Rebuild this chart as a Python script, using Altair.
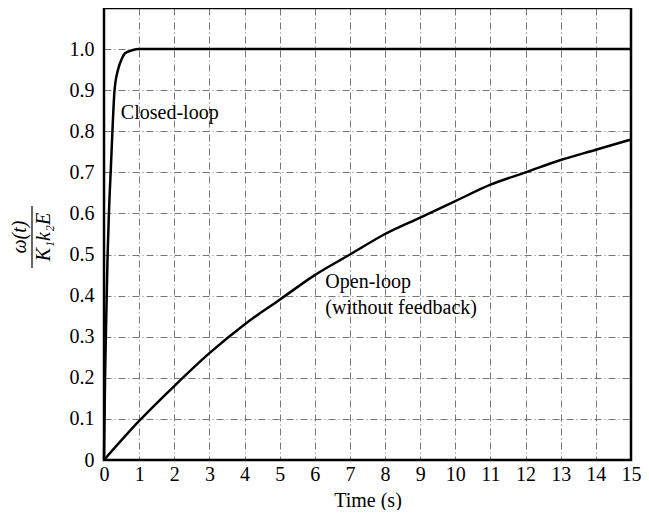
import altair as alt
import pandas as pd

closed_t = [0, 0.03, 0.07, 0.1, 0.14, 0.2, 0.25, 0.3, 0.4, 0.5, 0.6, 0.8, 1.0, 15]
closed_y = [0, 0.2, 0.37, 0.49, 0.6, 0.72, 0.82, 0.9, 0.95, 0.975, 0.99, 0.997, 1.0, 1.0]
open_t = [0, 1, 2, 3, 4, 5, 6, 7, 8, 9, 10, 11, 12, 13, 14, 15]
open_y = [0, 0.095, 0.18, 0.26, 0.33, 0.39, 0.45, 0.5, 0.55, 0.59, 0.63, 0.67, 0.70, 0.73, 0.755, 0.78]
x_ticks = list(range(0, 16))
y_ticks = [0, 0.1, 0.2, 0.3, 0.4, 0.5, 0.6, 0.7, 0.8, 0.9, 1.0]

labels_text = ["Closed-loop", "Open-loop", "(without feedback)"]
labels_t = [0.48, 6.3, 6.3]
labels_y = [0.845, 0.433, 0.37]

FONT = "Liberation Serif"
FS = 20

df = pd.concat([
    pd.DataFrame({"t": closed_t, "y": closed_y, "s": "closed"}),
    pd.DataFrame({"t": open_t, "y": open_y, "s": "open"}),
])
lab = pd.DataFrame({"text": labels_text, "t": labels_t, "y": labels_y})

W, H = 527, 452

xs = alt.Scale(domain=[0, 15], nice=False)
ys = alt.Scale(domain=[0, 1.1], nice=False)

lines = alt.Chart(df).mark_line(color="black", strokeWidth=2.5, interpolate="monotone").encode(
    x=alt.X("t:Q", scale=xs, axis=alt.Axis(
        values=x_ticks, title="Time (s)", grid=True, gridColor="#777", gridDash=[7, 3, 1, 3],
        gridWidth=1, ticks=False, labelFont=FONT, labelFontSize=FS, titleFont=FONT,
        titleFontSize=FS, titleFontWeight="normal", labelColor="black", titleColor="black",
        domain=False, labelPadding=4, titlePadding=6, labelOverlap=False, labelFlush=False)),
    y=alt.Y("y:Q", scale=ys, axis=alt.Axis(
        values=y_ticks, title=None, grid=True, gridColor="#777", gridDash=[7, 3, 1, 3],
        gridWidth=1, ticks=False, labelFont=FONT, labelFontSize=FS, labelColor="black",
        labelExpr="datum.value == 0 ? '0' : format(datum.value, '.1f')",
        domain=False, labelPadding=10, labelOverlap=False, labelFlush=False)),
    detail="s:N",
)

texts = alt.Chart(lab).mark_text(font=FONT, fontSize=FS, align="left", baseline="middle", color="black").encode(
    x=alt.X("t:Q", scale=xs, axis=None), y=alt.Y("y:Q", scale=ys, axis=None), text="text:N")

ytitle_df = pd.DataFrame({"text": ["ω(t)", "K₁k₂E"], "px": [-84, -60]})
ytitle = alt.Chart(ytitle_df).mark_text(font=FONT, fontSize=FS, fontStyle="italic", angle=270,
                                        align="center", baseline="middle", color="black").encode(
    x=alt.X("px:Q", scale=None, axis=None), y=alt.value(229), text="text:N")

frac = alt.Chart(pd.DataFrame({"a": [0]})).mark_rule(color="black", strokeWidth=1.2).encode(
    x=alt.value(-72), y=alt.value(198), y2=alt.value(260))

frame = alt.Chart(pd.DataFrame({"a": [0]})).mark_rect(filled=False, stroke="black", strokeWidth=2.5).encode(
    x=alt.value(0), x2=alt.value(W), y=alt.value(0), y2=alt.value(H))

chart = alt.layer(lines, texts, ytitle, frac, frame).resolve_axis(x="independent", y="independent").properties(
    width=W, height=H,
    autosize=alt.AutoSizeParams(type="none"),
    padding={"left": 96, "top": 0, "right": 10, "bottom": 50},
).configure_view(stroke=None).configure(background="white")

chart.save("out.html", embed_options={"renderer": "svg", "actions": False})
